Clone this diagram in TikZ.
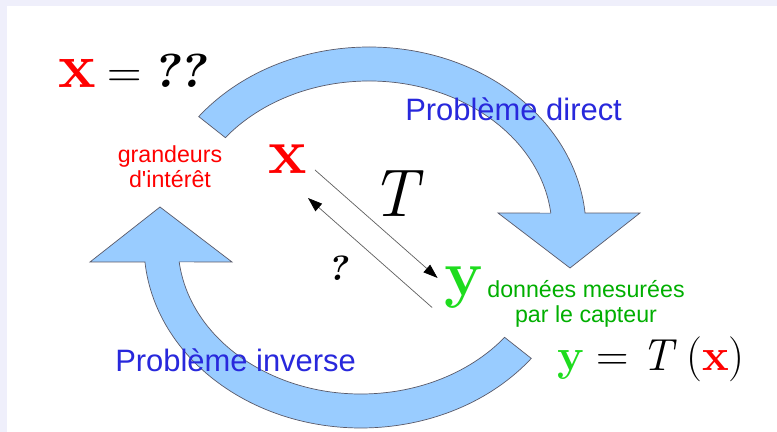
\documentclass[tikz,border=0pt]{standalone}
\usepackage{fontspec}
\newfontfamily\labelfont{Liberation Sans}
\usepackage{tikz}
\usetikzlibrary{arrows.meta}
\definecolor{bandblue}{RGB}{153,204,255}
\definecolor{bandline}{RGB}{90,90,105}
\definecolor{framelav}{RGB}{239,239,251}
\definecolor{probblue}{RGB}{40,40,220}
\definecolor{qtyred}{RGB}{255,0,0}
\definecolor{datagreen}{RGB}{0,175,0}
\definecolor{mathgreen}{RGB}{30,220,30}
\newcommand{\vx}{\textcolor{qtyred}{\bfseries x}}
\newcommand{\vy}{\textcolor{mathgreen}{\bfseries y}}
\newcommand{\qmark}{{\bfseries\slshape ?}}
\tikzset{
  loopband/.style = {
    fill=bandblue,
    draw=bandline,
    line width=0.5pt,
    line join=miter
  },
  sweep/.pic = {
    \path[loopband] (141.7:5.425 and 4.575)
      arc[start angle=141.7, end angle=5.3, x radius=5.425, y radius=4.575]
      -- (6.775,0.425) -- (5.025,-0.95) -- (3.225,0.425)
      -- (6.5:4.575 and 3.725)
      arc[start angle=6.5, end angle=141.7, x radius=4.575, y radius=3.725]
      -- cycle;
  },
  probtext/.style = {
    font=\labelfont\fontsize{22}{26}\selectfont,
    text=probblue,
    inner sep=0pt
  },
  notetext/.style = {
    font=\labelfont\fontsize{16.5}{17.8}\selectfont,
    align=center,
    inner sep=0pt
  },
  bigmath/.style = {
    font=\fontsize{46}{46}\selectfont,
    inner sep=0pt
  },
  maparrow/.style = {
    -{Triangle[length=3.6mm,width=2.5mm,color=black]},
    draw=gray!75!black,
    line width=0.5pt
  }
}

\begin{document}
\begin{tikzpicture}
    \useasboundingbox (0,0) rectangle (19.425,10.8);
    \fill[framelav] (0,0) rectangle (19.425,10.8);
    \fill[white] (0.175,0) rectangle (19.425,10.65);

    \pic at (9.225,5.05) {sweep};
    \pic[rotate=180] at (9.025,4.675) {sweep};

    \node[probtext] (direct) at (12.84,8.075) {Problème direct};
    \node[probtext] (inverse) at (5.89,1.79) {Problème inverse};

    \node[anchor=base, inner sep=0pt] (unknown) at (3.3,8.6)
      {{\fontsize{45}{45}\selectfont\vx}\fontsize{34}{34}\selectfont\hspace{0.25em}=\hspace{0.25em}\qmark\qmark};
    \node[notetext, text=qtyred] (interest) at (4.25,6.625) {grandeurs\\d'intérêt};

    \node[bigmath] (x) at (7.2,6.825) {\vx};
    \node[bigmath, font=\fontsize{48}{48}\selectfont] (map) at (9.925,5.95) {\textit{T}};
    \node[bigmath] (y) at (11.59,3.6) {\vy};
    \node[inner sep=0pt, font=\fontsize{25}{25}\selectfont] (ask) at (8.45,4.1) {\qmark};
    \node[notetext, text=datagreen] (measured) at (14.65,3.2) {données mesurées\\par le capteur};

    \node[anchor=base, inner sep=0pt, font=\fontsize{32}{32}\selectfont] (model) at (16.275,1.525)
      {\vy\hspace{0.28em}=\hspace{0.28em}\textit{T}\hspace{0.2em}(\vx)};

    \draw[maparrow] ([shift={(0.675,-0.275)}]x.center) -- ([shift={(-0.65,0.25)}]y.center);
    \draw[maparrow] ([shift={(-0.7875,-0.4875)}]y.center) -- ([shift={(0.5,-0.975)}]x.center);
  \end{tikzpicture}
\end{document}
